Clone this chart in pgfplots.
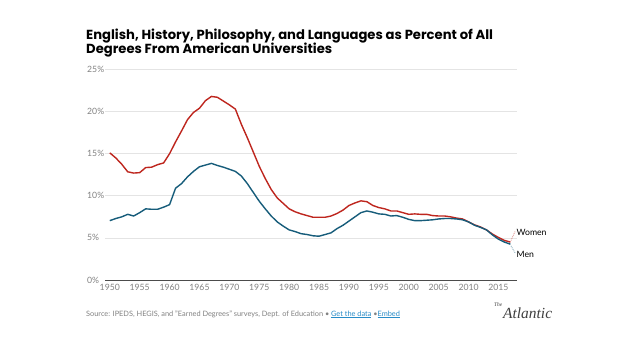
\documentclass[border=0pt]{standalone}
\usepackage{pgfplots}
\pgfplotsset{compat=1.18}
\usepackage{fontspec}
\setmainfont{Lato}
\newfontfamily\titlefont{Poppins}
\newfontfamily\logofont{Liberation Serif}
\definecolor{wred}{RGB}{190,38,30}
\definecolor{mblue}{RGB}{22,92,122}
\definecolor{ticklab}{RGB}{130,130,130}
\definecolor{gridc}{RGB}{228,228,228}
\definecolor{linkc}{RGB}{40,140,200}
\begin{document}
\begin{tikzpicture}
\path[use as bounding box, fill=white] (0,0) rectangle (617bp,353bp);
\begin{axis}[
  at={(105bp,73bp)}, anchor=south west,
  scale only axis, width=412bp, height=210.5bp,
  xmin=1949.2, xmax=2018.1, ymin=0, ymax=25,
  xtick={1950,1955,...,2015}, ytick={0,5,10,15,20,25},
  yticklabel={\pgfmathprintnumber{\tick}\%},
  /pgf/number format/assume math mode=true,
  x tick label style={/pgf/number format/1000 sep={}, font=\fontsize{8.7}{10}\selectfont, text=ticklab, inner sep=0pt, yshift=-4bp},
  y tick label style={font=\fontsize{8.7}{10}\selectfont, text=ticklab, anchor=west, inner sep=0pt, xshift=-18bp},
  tick style={draw=none},
  axis x line*=bottom, axis y line*=left,
  x axis line style={draw=black!70, line width=0.8pt, -},
  y axis line style={draw=none},
  ymajorgrids, major grid style={gridc, line width=0.6pt},
  clip=false,
]
\addplot[wred, line width=1.4pt] coordinates {
(1950,15.1)(1951,14.5)(1952,13.75)(1953,12.85)(1954,12.7)(1955,12.75)(1956,13.35)(1957,13.4)(1958,13.7)(1959,13.9)
(1960,15.0)(1961,16.4)(1962,17.7)(1963,19.05)(1964,19.9)(1965,20.4)(1966,21.3)(1967,21.8)(1968,21.7)(1969,21.25)
(1970,20.8)(1971,20.3)(1972,18.5)(1973,16.9)(1974,15.2)(1975,13.5)(1976,12.05)(1977,10.75)(1978,9.75)(1979,9.1)
(1980,8.45)(1981,8.1)(1982,7.85)(1983,7.65)(1984,7.45)(1985,7.45)(1986,7.45)(1987,7.6)(1988,7.9)(1989,8.3)
(1990,8.85)(1991,9.15)(1992,9.4)(1993,9.3)(1994,8.85)(1995,8.6)(1996,8.45)(1997,8.2)(1998,8.2)(1999,8.0)
(2000,7.8)(2001,7.85)(2002,7.8)(2003,7.8)(2004,7.65)(2005,7.6)(2006,7.6)(2007,7.5)(2008,7.35)(2009,7.25)
(2010,6.9)(2011,6.55)(2012,6.3)(2013,5.95)(2014,5.45)(2015,5.05)(2016,4.7)(2017,4.5)
};
\addplot[mblue, line width=1.4pt] coordinates {
(1950,7.05)(1951,7.3)(1952,7.5)(1953,7.8)(1954,7.6)(1955,8.0)(1956,8.45)(1957,8.4)(1958,8.4)(1959,8.65)
(1960,8.95)(1961,10.9)(1962,11.45)(1963,12.25)(1964,12.9)(1965,13.45)(1966,13.65)(1967,13.85)(1968,13.6)(1969,13.4)
(1970,13.15)(1971,12.9)(1972,12.35)(1973,11.45)(1974,10.4)(1975,9.35)(1976,8.45)(1977,7.6)(1978,6.9)(1979,6.4)
(1980,5.95)(1981,5.75)(1982,5.5)(1983,5.4)(1984,5.25)(1985,5.2)(1986,5.4)(1987,5.6)(1988,6.1)(1989,6.5)
(1990,7.0)(1991,7.5)(1992,8.0)(1993,8.2)(1994,8.05)(1995,7.85)(1996,7.8)(1997,7.6)(1998,7.65)(1999,7.45)
(2000,7.2)(2001,7.05)(2002,7.05)(2003,7.1)(2004,7.15)(2005,7.25)(2006,7.3)(2007,7.3)(2008,7.25)(2009,7.15)
(2010,6.9)(2011,6.5)(2012,6.25)(2013,5.95)(2014,5.35)(2015,4.85)(2016,4.5)(2017,4.25)
};
\draw[wred!60, densely dotted, line width=0.8pt] (axis cs:2017.1,4.7) -- (axis cs:2017.8,5.8);
\draw[mblue!60, densely dotted, line width=0.8pt] (axis cs:2017.1,4.05) -- (axis cs:2017.8,3.2);
\node[anchor=west, inner sep=0pt, font=\fontsize{8.7}{10}\selectfont] at (axis cs:2018.0,5.6) {Women};
\node[anchor=west, inner sep=0pt, font=\fontsize{8.7}{10}\selectfont] at (axis cs:2018.0,3.05) {Men};
\end{axis}
\node[anchor=base west, inner sep=0pt, font=\titlefont\fontsize{13.2}{15}\selectfont\bfseries] at (86bp,313bp) {English, History, Philosophy, and Languages as Percent of All};
\node[anchor=base west, inner sep=0pt, font=\titlefont\fontsize{13.2}{15}\selectfont\bfseries] at (86bp,299bp) {Degrees From American Universities};
\node[anchor=base west, inner sep=0pt, font=\fontsize{7.4}{9}\selectfont, text=ticklab] at (86bp,37bp) {Source: IPEDS, HEGIS, and "Earned Degrees" surveys, Dept. of Education \textbullet{} \textcolor{linkc}{\underline{Get the data}} \textbullet\textcolor{linkc}{\underline{Embed}}};
\node[anchor=base east, inner sep=0pt, text=black!75, font=\logofont\itshape\fontsize{5.5}{6}\selectfont] at (502.5bp,46bp) {The};
\node[anchor=base west, inner sep=0pt, text=black!75, font=\logofont\itshape\fontsize{15.5}{16}\selectfont] at (503bp,35bp) {Atlantic};
\end{tikzpicture}
\end{document}
